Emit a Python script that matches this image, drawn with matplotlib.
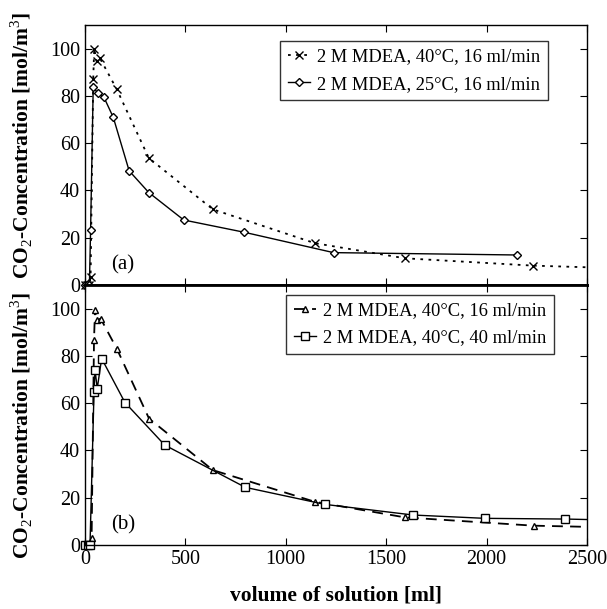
import matplotlib
matplotlib.use("Agg")
import matplotlib.pyplot as plt

plt.rcParams['font.family'] = ['Liberation Serif', 'DejaVu Serif']
plt.rcParams['mathtext.fontset'] = 'custom'
plt.rcParams['mathtext.rm'] = 'Liberation Serif'
plt.rcParams['mathtext.bf'] = 'Liberation Serif:bold'

# (a) 2 M MDEA, 40 C, 16 ml/min  (crosses, dotted)
x_40_16 = [0, 12, 22, 28, 41, 46, 58, 74, 157, 318, 637, 1145, 1594, 2231, 2500]
y_40_16 = [0, 0, 0, 3.5, 87, 100, 94.6, 96, 83, 53.7, 32, 17.7, 11.3, 8.2, 7.5]

# (a) 2 M MDEA, 25 C, 16 ml/min  (diamonds, solid)
x_25_16 = [0, 12, 22, 28, 41, 63, 94, 141, 220, 318, 492, 794, 1238, 2152]
y_25_16 = [0, 0, 0, 23.3, 83.8, 81.2, 79.5, 70.9, 48.3, 39.1, 27.5, 22.3, 13.7, 12.7]

# (b) 2 M MDEA, 40 C, 16 ml/min  (triangles, dashed)
x_b16 = [0, 12, 22, 33, 45, 50, 58, 78, 160, 319, 637, 1145, 1594, 2234, 2500]
y_b16 = [0, 0, 0, 2.8, 86.9, 99.6, 95, 95.8, 82.8, 53.5, 31.7, 18.3, 11.7, 8.2, 7.7]

# (b) 2 M MDEA, 40 C, 40 ml/min  (squares, solid)
x_b40 = [0, 13, 25, 45, 50, 61, 83, 199, 397, 799, 1195, 1635, 1991, 2392, 2500]
y_b40 = [0, 0, 0, 64.8, 74.2, 66.2, 78.9, 60.3, 42.3, 24.4, 17.2, 12.7, 11.3, 11.0, 10.8]

labels_a = ['2 M MDEA, 40°C, 16 ml/min', '2 M MDEA, 25°C, 16 ml/min']
labels_b = ['2 M MDEA, 40°C, 16 ml/min', '2 M MDEA, 40°C, 40 ml/min']

fig = plt.figure(figsize=(6.07, 6.09), dpi=100)
ax1 = fig.add_axes([0.140, 0.532, 0.827, 0.427])
ax2 = fig.add_axes([0.140, 0.105, 0.827, 0.427])

mk = dict(markerfacecolor='white', markeredgecolor='black', color='black', clip_on=False)

ax1.plot(x_40_16, y_40_16, linestyle=(0, (1.5, 3)), lw=1.3, marker='x', ms=6,
         markevery=list(range(len(x_40_16) - 1)), label=labels_a[0], **mk)
ax1.plot(x_25_16, y_25_16, linestyle='-', lw=1.0, marker='D', ms=4,
         label=labels_a[1], **mk)

ax2.plot(x_b16, y_b16, linestyle=(0, (6, 4)), lw=1.3, marker='^', ms=5,
         markevery=list(range(len(x_b16) - 1)), label=labels_b[0], **mk)
ax2.plot(x_b40, y_b40, linestyle='-', lw=1.0, marker='s', ms=6,
         markevery=list(range(len(x_b40) - 1)), label=labels_b[1], **mk)

for ax in (ax1, ax2):
    ax.set_xlim(0, 2500)
    ax.set_ylim(0, 110)
    ax.set_yticks([0, 20, 40, 60, 80, 100])
    ax.set_xticks([0, 500, 1000, 1500, 2000, 2500])
    ax.tick_params(direction='in', top=True, right=True, length=5, width=0.8,
                   labelsize=14.5)
    ax.set_ylabel('CO$_2$-Concentration [mol/m$^3$]', fontsize=15.5, fontweight='bold')
    for s in ax.spines.values():
        s.set_linewidth(1.0)

ax1.yaxis.set_label_coords(-0.1, 0.535)
ax2.yaxis.set_label_coords(-0.1, 0.46)

ax1.tick_params(labelbottom=False)
ax1.spines['bottom'].set_linewidth(2.0)
ax2.spines['top'].set_linewidth(2.0)

ax1.text(0.053, 0.06, '(a)', transform=ax1.transAxes, fontsize=15)
ax2.text(0.053, 0.06, '(b)', transform=ax2.transAxes, fontsize=15)

ax2.set_xlabel('volume of solution [ml]', fontsize=15.5, fontweight='bold', labelpad=12)

leg_kw = dict(fontsize=13.3, frameon=True, fancybox=False, edgecolor='black',
              handlelength=1.2, handletextpad=0.4, borderpad=0.4, labelspacing=0.55,
              borderaxespad=0.0)
l1 = ax1.legend(loc='upper right', bbox_to_anchor=(0.922, 0.938), **leg_kw)
l2 = ax2.legend(loc='upper right', bbox_to_anchor=(0.934, 0.962), **leg_kw)
for l in (l1, l2):
    l.get_frame().set_linewidth(1.0)

fig.savefig('out.png', dpi=100)
